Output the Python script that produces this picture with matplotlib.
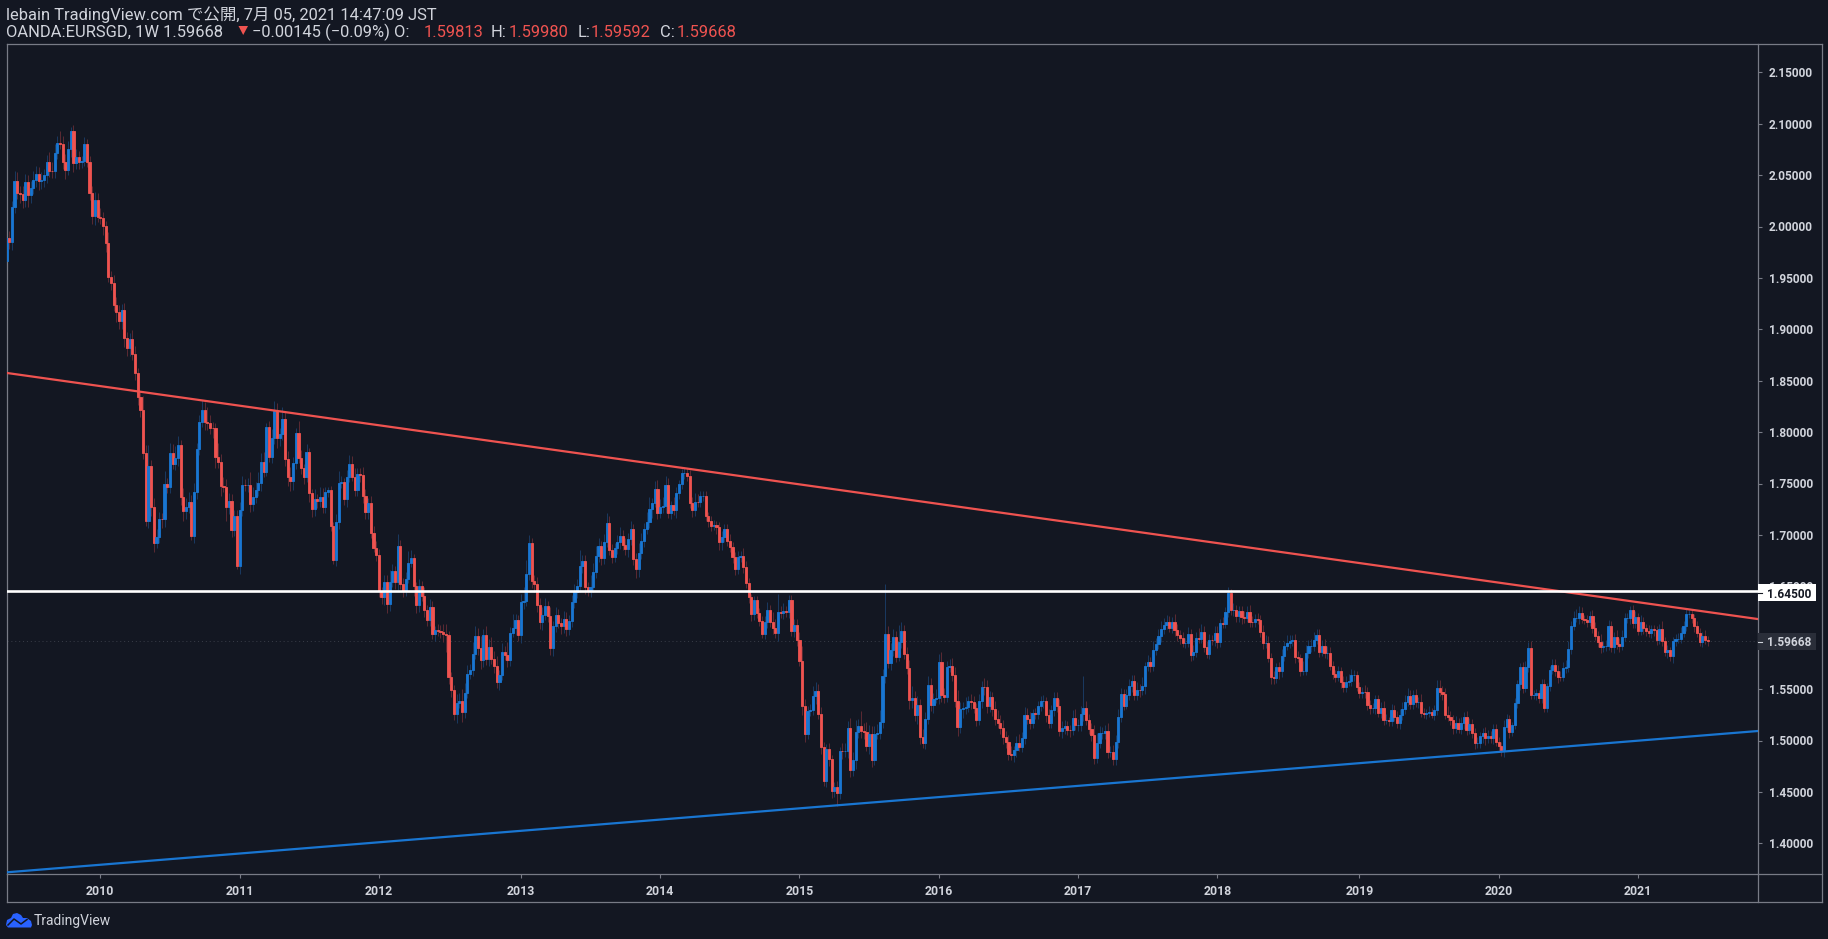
import matplotlib
matplotlib.use("Agg")
import matplotlib.pyplot as plt
from matplotlib.lines import Line2D
from matplotlib.patches import Rectangle, Polygon

# ---------- data ----------
first_open = 1.966
closes = [
1.9886,1.9854,2.0188,2.0444,2.0330,2.0317,2.0259,2.0437,2.0308,2.0372,
2.0453,2.0512,2.0447,2.0450,2.0502,2.0632,2.0544,2.0540,2.0713,2.0810,
2.0803,2.0632,2.0551,2.0752,2.0930,2.0622,2.0674,2.0632,2.0635,2.0803,
2.0632,2.0330,2.0103,2.0259,2.0097,2.0081,2.0000,1.9844,1.9507,1.9449,
1.9240,1.9165,1.9084,1.9188,1.8912,1.8815,1.8906,1.8757,1.8572,1.8345,
1.8216,1.7795,1.7137,1.7672,1.7270,1.6920,1.6978,1.7153,1.7150,1.7497,
1.7464,1.7795,1.7688,1.7746,1.7876,1.7373,1.7228,1.7270,1.7322,1.6985,
1.7422,1.7834,1.8096,1.8216,1.8102,1.8086,1.8038,1.8036,1.7762,1.7714,
1.7471,1.7468,1.7276,1.7328,1.7043,1.7185,1.6693,1.7244,1.7487,1.7484,
1.7490,1.7302,1.7373,1.7438,1.7503,1.7714,1.7616,1.8047,1.7762,1.7940,
1.8206,1.7940,1.7979,1.8125,1.7736,1.7568,1.7526,1.7697,1.7989,1.7746,
1.7649,1.7568,1.7804,1.7406,1.7254,1.7347,1.7325,1.7367,1.7270,1.7415,
1.7438,1.7088,1.6758,1.7121,1.7509,1.7510,1.7351,1.7568,1.7691,1.7568,
1.7438,1.7590,1.7584,1.7383,1.7218,1.7309,1.7023,1.6871,1.6800,1.6456,
1.6392,1.6541,1.6330,1.6541,1.6651,1.6537,1.6894,1.6521,1.6456,1.6570,
1.6725,1.6774,1.6499,1.6314,1.6505,1.6408,1.6272,1.6175,1.6298,1.6039,
1.6077,1.6068,1.6055,1.6039,1.6022,1.5614,1.5488,1.5261,1.5365,1.5381,
1.5280,1.5462,1.5650,1.5689,1.5844,1.6019,1.5899,1.5779,1.6026,1.5792,
1.5909,1.5792,1.5721,1.5566,1.5640,1.5860,1.5834,1.5779,1.6045,1.6094,
1.6175,1.6029,1.6346,1.6359,1.6618,1.6920,1.6547,1.6521,1.6314,1.6149,
1.6223,1.6311,1.6213,1.5896,1.6116,1.6223,1.6142,1.6110,1.6181,1.6084,
1.6158,1.6346,1.6440,1.6505,1.6693,1.6748,1.6492,1.6460,1.6492,1.6638,
1.6790,1.6894,1.6774,1.6930,1.7114,1.6855,1.6784,1.6871,1.6930,1.6990,
1.6903,1.6864,1.6958,1.7058,1.6767,1.6666,1.6822,1.6945,1.7055,1.7123,
1.7249,1.7308,1.7447,1.7210,1.7275,1.7282,1.7486,1.7210,1.7291,1.7243,
1.7405,1.7496,1.7599,1.7600,1.7573,1.7308,1.7243,1.7324,1.7322,1.7379,
1.7380,1.7184,1.7139,1.7087,1.7097,1.7074,1.6935,1.6977,1.7058,1.6945,
1.6880,1.6783,1.6669,1.6789,1.6796,1.6692,1.6536,1.6394,1.6232,1.6368,
1.6245,1.6167,1.6038,1.6151,1.6271,1.6157,1.6099,1.6044,1.6248,1.6238,
1.6255,1.6248,1.6368,1.6070,1.6125,1.5973,1.5778,1.5338,1.5066,1.5289,
1.5299,1.5435,1.5483,1.5257,1.4933,1.4609,1.4916,1.4819,1.4505,1.4547,
1.4489,1.4900,1.4894,1.4896,1.5121,1.4709,1.4806,1.5078,1.5143,1.5088,
1.5078,1.4949,1.5062,1.4806,1.5062,1.5072,1.5176,1.5623,1.6038,1.5752,
1.5876,1.6005,1.5817,1.5957,1.6067,1.5843,1.5704,1.5390,1.5412,1.5250,
1.5347,1.5033,1.4975,1.5208,1.5542,1.5347,1.5402,1.5409,1.5762,1.5438,
1.5422,1.5714,1.5720,1.5639,1.5380,1.5127,1.5305,1.5315,1.5325,1.5380,
1.5370,1.5315,1.5202,1.5380,1.5519,1.5516,1.5331,1.5422,1.5305,1.5208,
1.5169,1.5121,1.5033,1.4981,1.4871,1.4861,1.4910,1.4975,1.4936,1.5023,
1.5250,1.5208,1.5169,1.5266,1.5257,1.5331,1.5380,1.5380,1.5250,1.5169,
1.5299,1.5412,1.5331,1.5095,1.5121,1.5143,1.5104,1.5098,1.5218,1.5153,
1.5153,1.5257,1.5315,1.5202,1.5111,1.5056,1.4829,1.4975,1.5072,1.5072,
1.5088,1.4884,1.4884,1.4819,1.4981,1.5224,1.5451,1.5338,1.5445,1.5532,
1.5574,1.5445,1.5493,1.5487,1.5526,1.5726,1.5762,1.5726,1.5882,1.5937,
1.6021,1.6083,1.6125,1.6157,1.6099,1.6151,1.6076,1.6028,1.5995,1.5947,
1.5947,1.6034,1.5833,1.5859,1.5995,1.5986,1.6060,1.5914,1.5843,1.5979,
1.5973,1.6050,1.5963,1.6140,1.6138,1.6247,1.6432,1.6270,1.6270,1.6215,
1.6264,1.6199,1.6189,1.6247,1.6157,1.6150,1.6179,1.6173,1.6053,1.5952,
1.5952,1.5800,1.5616,1.5606,1.5713,1.5680,1.5826,1.5920,1.5952,1.5969,
1.5978,1.5810,1.5800,1.5680,1.5680,1.5855,1.5920,1.5920,1.5978,1.6027,
1.5865,1.5920,1.5849,1.5855,1.5726,1.5648,1.5622,1.5677,1.5573,1.5525,
1.5573,1.5583,1.5638,1.5638,1.5518,1.5460,1.5476,1.5470,1.5347,1.5321,
1.5321,1.5402,1.5266,1.5321,1.5201,1.5201,1.5191,1.5292,1.5233,1.5175,
1.5249,1.5304,1.5379,1.5434,1.5356,1.5444,1.5379,1.5379,1.5266,1.5259,
1.5266,1.5282,1.5249,1.5298,1.5509,1.5476,1.5450,1.5249,1.5227,1.5201,
1.5120,1.5168,1.5110,1.5168,1.5233,1.5104,1.5162,1.5071,1.4974,1.4974,
1.5039,1.5071,1.5029,1.5039,1.5023,1.5110,1.4990,1.4942,1.4893,1.5136,
1.5207,1.5078,1.5152,1.5363,1.5547,1.5713,1.5509,1.5713,1.5897,1.5444,
1.5444,1.5460,1.5411,1.5551,1.5314,1.5531,1.5687,1.5735,1.5680,1.5622,
1.5616,1.5703,1.5719,1.5888,1.6114,1.6189,1.6189,1.6238,1.6179,1.6173,
1.6157,1.6212,1.6092,1.6017,1.5962,1.5914,1.5920,1.5920,1.6114,1.5914,
1.6004,1.5940,1.5920,1.6004,1.6189,1.6189,1.6270,1.6140,1.6199,1.6069,
1.6157,1.6092,1.6069,1.6050,1.6082,1.6076,1.5978,1.6082,1.5969,1.5865,
1.5881,1.5826,1.5969,1.5985,1.5985,1.6043,1.6114,1.6228,1.6228,1.6189,
1.6114,1.6050,1.5956,1.6017,1.5981,1.59668]

# wick lengths above / below the candle body, in thousandths of a price unit
upper_wick = [
5,7,6,10,9,6,8,7,6,7, 9,8,7,8,6,6,9,8,9,7,
12,8,7,8,4,6,8,6,5,7, 5,5,6,8,7,8,6,5,10,6,
8,7,7,6,7,6,6,9,8,5, 5,14,8,20,6,9,8,7,6,12,
6,10,9,12,9,5,8,9,10,7, 8,6,7,10,8,14,8,6,5,13,
7,9,8,8,7,6,6,8,9,6, 6,12,9,8,11,8,9,4,6,9,
10,8,6,12,7,8,9,6,5,12, 8,4,8,4,4,10,5,10,9,5,
3,4,4,8,11,6,4,6,9,8, 8,6,6,8,6,5,7,6,7,6,
4,7,7,12,7,5,11,6,6,7, 12,8,4,4,7,5,9,5,8,6,
4,6,6,8,9,4,5,5,9,8, 12,10,8,6,11,9,8,12,6,9,
8,10,8,10,5,9,6,12,6,14, 6,5,8,13,14,8,5,6,7,7,
8,8,5,9,5,8,6,5,8,7, 6,7,8,7,16,6,6,5,12,9,
10,8,5,8,10,7,6,5,7,9, 6,7,6,8,5,6,10,7,6,10,
12,5,8,9,7,9,9,7,4,8, 6,4,4,6,5,6,6,8,7,5,
5,5,4,4,5,4,5,6,5,5, 6,5,5,5,5,8,5,4,3,4,
4,4,4,6,8,5,9,8,18,6, 8,5,5,5,6,6,8,14,7,5,
6,10,9,7,7,5,5,6,4,5, 6,4,8,8,7,10,8,12,7,14,
8,10,9,8,8,9,12,7,48,8, 7,8,6,17,9,6,7,8,12,7,
9,6,8,7,9,7,6,9,8,10, 7,6,7,8,8,11,7,6,10,5,
7,6,5,7,6,9,7,6,5,8, 9,8,8,6,7,8,4,7,9,6,
8,7,7,4,5,5,5,6,4,6, 5,6,6,7,7,6,5,5,8,9,
6,8,31,7,6,6,9,10,7,6, 6,8,6,7,7,8,6,5,6,7,
6,6,8,6,9,4,7,5,9,6, 6,8,7,6,5,5,8,6,5,6,
5,7,5,7,6,10,7,5,5,6, 5,6,6,4,6,5,6,4,7,5,
4,4,6,6,7,5,5,6,5,7, 7,6,5,6,4,5,6,5,7,6,
5,6,6,4,9,7,6,7,8,6, 6,6,7,6,5,5,4,5,4,5,
5,6,6,5,4,5,4,6,5,5, 4,4,4,5,6,6,3,6,5,5,
6,7,6,8,6,5,6,4,7,5, 4,5,3,5,8,8,5,6,9,6,
5,7,5,6,4,5,6,5,5,6, 4,5,6,6,5,5,5,4,4,6,
5,4,3,5,4,4,5,6,6,7, 5,4,3,5,5,3,4,6,6,5,
5,6,6,8,5,7,9,7,6,4, 5,5,6,6,5,7,5,6,6,5,
5,7,6,7,5,5,4,5,6,4, 6,4,4,5,4,4,4,5,8,4,
5,3,4,5,6,6,5,5,4,5, 4,5,4,4,6,4,5,6,5,6,
5,5,4,4,3,1]
lower_wick = [
9,7,8,6,6,9,8,7,12,8, 6,7,9,8,7,8,6,7,7,6,
5,7,9,5,8,9,6,7,6,5, 5,7,8,9,5,6,8,9,5,7,
6,9,8,8,8,7,7,6,7,8, 7,6,5,7,9,9,5,6,8,7,
6,6,5,6,8,8,9,7,6,3, 6,7,6,5,8,7,6,9,11,6,
9,5,14,7,6,5,2,7,6,6, 7,8,7,6,6,8,5,4,5,6,
6,9,8,6,7,9,10,9,6,5, 6,7,5,9,8,7,6,5,6,6,
5,5,4,6,6,5,6,8,5,4, 6,6,7,7,6,6,5,4,5,6,
6,7,9,7,5,6,7,5,6,5, 4,4,9,7,6,5,7,6,6,5,
7,5,6,8,16,6,6,6,9,5, 10,6,5,5,6,5,7,8,6,6,
7,5,6,6,7,5,5,6,5,4, 7,6,8,7,5,6,6,8,6,6,
7,5,6,6,7,6,5,7,6,7, 6,5,6,5,6,6,7,5,6,5,
6,5,7,6,5,5,6,5,6,7, 5,6,8,6,6,9,8,6,6,5,
6,8,4,6,5,6,7,5,6,5, 8,6,5,6,5,5,7,6,5,5,
5,5,6,5,4,7,8,8,5,5, 5,6,6,5,5,6,5,6,7,6,
5,5,4,5,6,5,6,5,8,5, 6,5,6,5,6,5,5,9,8,5,
5,5,8,5,6,5,6,7,6,5, 13,6,7,5,7,6,5,8,5,6,
6,5,8,6,4,5,6,5,6,5, 7,5,5,4,6,5,6,8,7,6,
9,7,5,6,5,6,8,4,5,6, 6,5,5,6,5,8,5,9,6,5,
6,5,6,5,6,7,6,5,7,6, 5,6,7,5,6,5,7,7,4,5,
6,5,6,5,5,5,4,6,7,5, 5,6,5,5,7,6,5,6,4,5,
6,6,7,5,5,6,6,5,5,6, 6,5,4,6,6,5,4,4,3,5,
6,5,5,6,4,7,5,6,5,5, 5,6,5,4,4,5,6,6,6,4,
5,4,6,5,5,4,4,5,4,5, 4,5,6,5,4,4,5,5,6,6,
6,7,5,4,5,5,5,4,5,6, 5,4,7,6,5,8,6,5,4,5,
5,6,4,5,4,4,5,6,5,4, 5,4,5,6,4,5,5,4,6,5,
5,4,5,6,4,5,5,6,5,6, 5,6,4,5,5,4,5,5,4,5,
6,5,5,4,5,5,5,6,4,4, 5,4,3,5,5,4,6,4,4,5,
6,5,4,5,6,5,4,5,6,5, 5,6,7,5,5,6,4,5,4,5,
4,5,3,4,5,6,5,4,5,4, 4,5,5,5,4,4,5,4,5,6,
4,4,5,5,5,4,4,6,4,4, 5,4,5,4,5,6,5,5,4,5,
6,5,6,4,4,5,6,5,5,4, 4,6,5,4,5,6,5,4,5,4,
6,5,7,5,4,4,4,5,4,5, 6,4,4,5,4,5,5,4,5,6,
5,6,4,4,3,1]

year_labels = ["2010","2011","2012","2013","2014","2015","2016","2017","2018","2019","2020","2021"]
year_bars = [35,87,139,192,244,296,348,400,452,505,557,609]
price_ticks = [1.40,1.45,1.50,1.55,1.65,1.70,1.75,1.80,1.85,1.90,1.95,2.00,2.05,2.10,2.15]
resistance_line = (1.8575, 1.6182)
support_line = (1.3718, 1.5092)
level_price = 1.645
last_price = 1.59668
header_1 = "lebain TradingView.com で公開, 7月 05, 2021 14:47:09 JST"

# ---------- style ----------
W, H = 1828, 939
BG = "#131722"; GRID = "#787b86"; TXT = "#d1d4dc"
BLUE = "#1976d2"; RED = "#ef5350"; BLUE_DIM = "#1a3a61"; RED_DIM = "#5c2a33"
FONT = ["Roboto", "Noto Sans CJK JP", "DejaVu Sans"]
plt.rcParams["font.family"] = FONT

fig = plt.figure(figsize=(W/100, H/100), dpi=100, facecolor=BG)
L, R, T, B = 7.0, 1757.5, 44.0, 873.5
ax = fig.add_axes([L/W, 1-B/H, (R-L)/W, (B-T)/H], facecolor=BG)

n = len(closes)
opens = [first_open] + closes[:-1]
idx = list(range(n))
top = [max(o, c) for o, c in zip(opens, closes)]
bot = [min(o, c) for o, c in zip(opens, closes)]
highs = [t + u/1000 for t, u in zip(top, upper_wick)]
lows = [b - d/1000 for b, d in zip(bot, lower_wick)]
colors = [BLUE if c >= o else RED for o, c in zip(opens, closes)]
dims = [BLUE_DIM if c >= o else RED_DIM for o, c in zip(opens, closes)]

ax.vlines(idx, lows, highs, colors=dims, linewidth=0.7, zorder=2)
ax.bar(idx, [t-b for t, b in zip(top, bot)], bottom=bot, width=0.8, color=colors,
       edgecolor=colors, linewidth=0.6, zorder=3)

PX = 2.679
x_left = (L-6.5)/PX
x_right = (R-6.5)/PX
ax.set_xlim(x_left, x_right)
ax.set_ylim(1.40+(843.3-B)/1028, 1.40+(843.3-T)/1028)

ax.plot([x_left, x_right], resistance_line, color=RED, lw=1.6, zorder=4)
ax.plot([x_left, x_right], support_line, color=BLUE, lw=1.6, zorder=4)
ax.axhline(level_price, color="white", lw=1.9, zorder=5)
ax.axhline(last_price, color="#3a3e49", lw=0.7, ls=(0, (1, 3)), zorder=1)

ax.yaxis.tick_right()
ax.set_yticks(price_ticks)
ax.set_yticklabels([f"{p:.5f}" for p in price_ticks])
ax.set_xticks(year_bars)
ax.set_xticklabels(year_labels)
ax.tick_params(axis="y", length=3, width=0.8, color=GRID, labelcolor=TXT, labelsize=8.6, pad=5)
ax.tick_params(axis="x", length=3, width=0.8, color=GRID, labelcolor=TXT, labelsize=8.8, pad=5)
for t in ax.get_xticklabels() + ax.get_yticklabels():
    t.set_fontweight("bold")
for s in ax.spines.values():
    s.set_color(GRID); s.set_linewidth(0.9)

def px(x, y):
    return x/W, 1-y/H

# outer frame of the scales
for (x0, y0, x1, y1) in [(R, B, 1821.5, B), (1821.5, T, 1821.5, 902), (L, 902, 1821.5, 902),
                         (L, B, L, 902), (R, B, R, 902), (R, T, 1821.5, T)]:
    a, b = px(x0, y0); c, d = px(x1, y1)
    fig.add_artist(Line2D([a, c], [b, d], color=GRID, lw=0.9))

# price labels on the scale
for val, y0, y1, bg, fg in [(level_price, 584, 601, "white", BG), (last_price, 633, 650, "#2a2e39", TXT)]:
    fig.add_artist(Rectangle(px(1757.5, y1), 58/W, (y1-y0)/H, transform=fig.transFigure,
                             facecolor=bg, edgecolor="none", zorder=5))
    a, b = px(1757.5, (y0+y1)/2); c, d = px(1762, (y0+y1)/2)
    fig.add_artist(Line2D([a, c], [b, d], color=fg, lw=0.8, zorder=6))
    x, y = px(1767.5, (y0+y1)/2)
    fig.text(x, y, f"{val:.5f}", color=fg, fontsize=8.6, fontweight="bold", va="center_baseline", ha="left", zorder=7)

# header lines
def head(x, y, s, color=TXT):
    a, b = px(x, y)
    fig.text(a, b, s, color=color, fontsize=11.9, va="center", ha="left", zorder=7)

head(6.5, 15, header_1)
head(6.5, 32.5, "OANDA:EURSGD, 1W 1.59668")
head(252.5, 32.5, "−0.00145 (−0.09%) O:")
head(423.5, 32.5, "1.59813", RED)
head(491, 32.5, "H:")
head(509, 32.5, "1.59980", RED)
head(577.5, 32.5, "L:")
head(591, 32.5, "1.59592", RED)
head(660, 32.5, "C:")
head(677, 32.5, "1.59668", RED)
fig.add_artist(Polygon([px(238.5, 26), px(248, 26), px(243.2, 35)], closed=True, transform=fig.transFigure,
                       facecolor=RED, edgecolor="none"))

# TradingView mark
cloud = [(6, 925), (7, 920), (11, 918), (13, 914), (17, 913), (21, 915), (23, 918), (27, 918),
         (31, 921), (32, 925), (31, 927.5), (8, 927.5)]
fig.add_artist(Polygon([px(*p) for p in cloud], closed=True, transform=fig.transFigure,
                       facecolor="#2962ff", edgecolor="none"))
zig = [(8, 925), (14, 919), (21, 924), (27, 919.5)]
fig.add_artist(Line2D([px(*p)[0] for p in zig], [px(*p)[1] for p in zig], color=BG, lw=1.1))
a, b = px(34, 920.5)
fig.text(a, b, "TradingView", color=TXT, fontsize=10, va="center", ha="left")

fig.savefig("out.png", dpi=100, facecolor=BG)
print(n, len(upper_wick), len(lower_wick))
